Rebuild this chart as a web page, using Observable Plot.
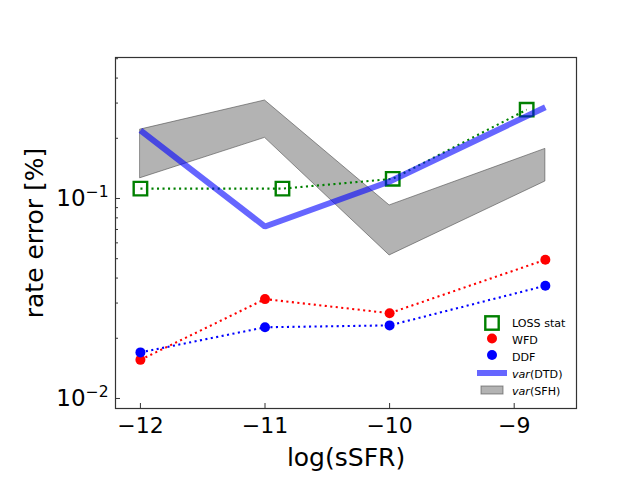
<!DOCTYPE html>
<html>
<head>
<meta charset="utf-8">
<script src="https://cdn.jsdelivr.net/npm/d3@7"></script>
<script src="https://cdn.jsdelivr.net/npm/@observablehq/plot@0.6"></script>
<style>
  html, body { margin: 0; padding: 0; background: #fff; }
  #wrap { position: relative; width: 640px; height: 480px; font-family: "DejaVu Sans", sans-serif; }
  #legend { position: absolute; left: 0; top: 0; }
</style>
</head>
<body>
<div id="wrap"></div>
<script>
// ---- data ----
const sSFR   = [-12, -11, -10, -8.75];
const wfd    = [0.0156, 0.0314, 0.0267, 0.0494];
const ddf    = [0.0170, 0.0227, 0.0232, 0.0366];
const lossX  = [-12, -10.86, -9.975, -8.9];
const lossY  = [0.112, 0.112, 0.1254, 0.278];
const dtd    = [0.219, 0.0724, 0.1216, 0.286];
const sfhLow = [0.1263, 0.201, 0.0519, 0.1216];
const sfhHigh= [0.221, 0.309, 0.0923, 0.177];
const xTicks = [-12, -11, -10, -9];
const yMajor = [0.01, 0.1];
const yMajorExp = ["\u22122", "\u22121"];
const yMinor = [0.02, 0.03, 0.04, 0.05, 0.06, 0.07, 0.08, 0.09, 0.2, 0.3, 0.4, 0.5];
const legendItems = ["LOSS stat", "WFD", "DDF", "var(DTD)", "var(SFH)"];

const rows = sSFR.map((x, i) => ({x, wfd: wfd[i], ddf: ddf[i], dtd: dtd[i], lo: sfhLow[i], hi: sfhHigh[i]}));
const loss = lossX.map((x, i) => ({x, y: lossY[i]}));

const font = "DejaVu Sans, sans-serif";
const dotted = "2.08,3.44";

const chart = Plot.plot({
  width: 640,
  height: 480,
  marginLeft: 115,
  marginRight: 64,
  marginTop: 57,
  marginBottom: 72,
  style: {fontFamily: font, background: "white", color: "black", overflow: "visible"},
  x: {domain: [-12.2, -8.5]},
  y: {type: "log", domain: [0.00891, 0.507]},
  marks: [
    Plot.areaY(rows, {x: "x", y1: "lo", y2: "hi", fill: "#808080", fillOpacity: 0.6, stroke: "#4d4d4d", strokeOpacity: 0.6, strokeWidth: 1}),
    Plot.line(loss, {x: "x", y: "y", stroke: "green", strokeWidth: 2.08, strokeDasharray: dotted, strokeLinecap: "butt"}),
    Plot.dot(loss, {x: "x", y: "y", symbol: "square", r: 7.6, stroke: "green", strokeWidth: 2.4, fill: "none"}),
    Plot.line(rows, {x: "x", y: "dtd", stroke: "#0000ff", strokeOpacity: 0.6, strokeWidth: 6, strokeLinejoin: "miter", strokeLinecap: "butt"}),
    Plot.line(rows, {x: "x", y: "wfd", stroke: "#ff0000", strokeWidth: 2.08, strokeDasharray: dotted, strokeLinecap: "butt"}),
    Plot.dot(rows, {x: "x", y: "wfd", r: 5, fill: "#ff0000"}),
    Plot.line(rows, {x: "x", y: "ddf", stroke: "#0000ff", strokeWidth: 2.08, strokeDasharray: dotted, strokeLinecap: "butt"}),
    Plot.dot(rows, {x: "x", y: "ddf", r: 5, fill: "#0000ff"}),
    // axes: labels
    Plot.axisX({ticks: xTicks, tickSize: 0, tickPadding: 9, fontSize: 22,
      tickFormat: d => (d < 0 ? "\u2212" + Math.abs(d) : String(d)),
      label: "log(sSFR)", labelAnchor: "center", labelArrow: "none", labelOffset: 57}),
    Plot.axisX({ticks: xTicks, tickSize: -5, tickFormat: () => "", label: null, stroke: "#333"}),
    Plot.axisY({ticks: yMajor, tickSize: 0, tickPadding: 7, fontSize: 23,
      tickFormat: d => "10|" + yMajorExp[yMajor.indexOf(d)],
      label: "rate error [%]", labelAnchor: "center", labelArrow: "none", labelOffset: 90}),
    Plot.axisY({ticks: yMajor, tickSize: -5, tickFormat: () => "", label: null, stroke: "#333"}),
    Plot.axisY({ticks: yMinor, tickSize: -3, tickFormat: () => "", label: null, stroke: "#333"}),
    Plot.frame({stroke: "#333", strokeWidth: 1.2})
  ]
});

// label font sizes
d3.select(chart).selectAll('[aria-label$="axis label"] text').attr("font-size", 25);
// superscript exponents on y tick labels
d3.select(chart).selectAll('[aria-label="y-axis tick label"] text').each(function() {
  const s = this.textContent;
  if (!s.includes("|")) return;
  const [base, exp] = s.split("|");
  const t = d3.select(this);
  t.text(null);
  t.append("tspan").text(base);
  t.append("tspan").attr("font-size", 15.5).attr("dy", -9).text(exp);
});

const wrap = document.getElementById("wrap");
wrap.appendChild(chart);

// ---- legend overlay ----
const leg = d3.select(wrap).append("svg").attr("id", "legend")
  .attr("width", 640).attr("height", 480)
  .style("pointer-events", "none")
  .attr("font-family", font).attr("font-size", 11.1);
const lx = 492, ly0 = 323, step = 17, tx = 512;
legendItems.forEach((name, i) => {
  const y = ly0 + i * step;
  const g = leg.append("g");
  if (i === 0) g.append("rect").attr("x", lx - 6.7).attr("y", y - 6.7).attr("width", 13.4).attr("height", 13.4)
      .attr("fill", "none").attr("stroke", "green").attr("stroke-width", 2.4);
  if (i === 1) g.append("circle").attr("cx", lx).attr("cy", y - 1.5).attr("r", 5).attr("fill", "#ff0000");
  if (i === 2) g.append("circle").attr("cx", lx).attr("cy", y - 2).attr("r", 5).attr("fill", "#0000ff");
  if (i === 3) g.append("line").attr("x1", 477).attr("x2", 507).attr("y1", y - 1).attr("y2", y - 1)
      .attr("stroke", "#0000ff").attr("stroke-opacity", 0.6).attr("stroke-width", 6);
  if (i === 4) g.append("rect").attr("x", 481).attr("y", y - 5).attr("width", 22).attr("height", 8)
      .attr("fill", "#808080").attr("fill-opacity", 0.6).attr("stroke", "#4d4d4d").attr("stroke-opacity", 0.6);
  const t = g.append("text").attr("x", tx).attr("y", y + 4);
  if (i >= 3) {
    const m = name.match(/^(var)(.*)$/);
    t.append("tspan").attr("font-style", "italic").text(m[1]);
    t.append("tspan").text(m[2]);
  } else t.text(name);
});
</script>
</body>
</html>
